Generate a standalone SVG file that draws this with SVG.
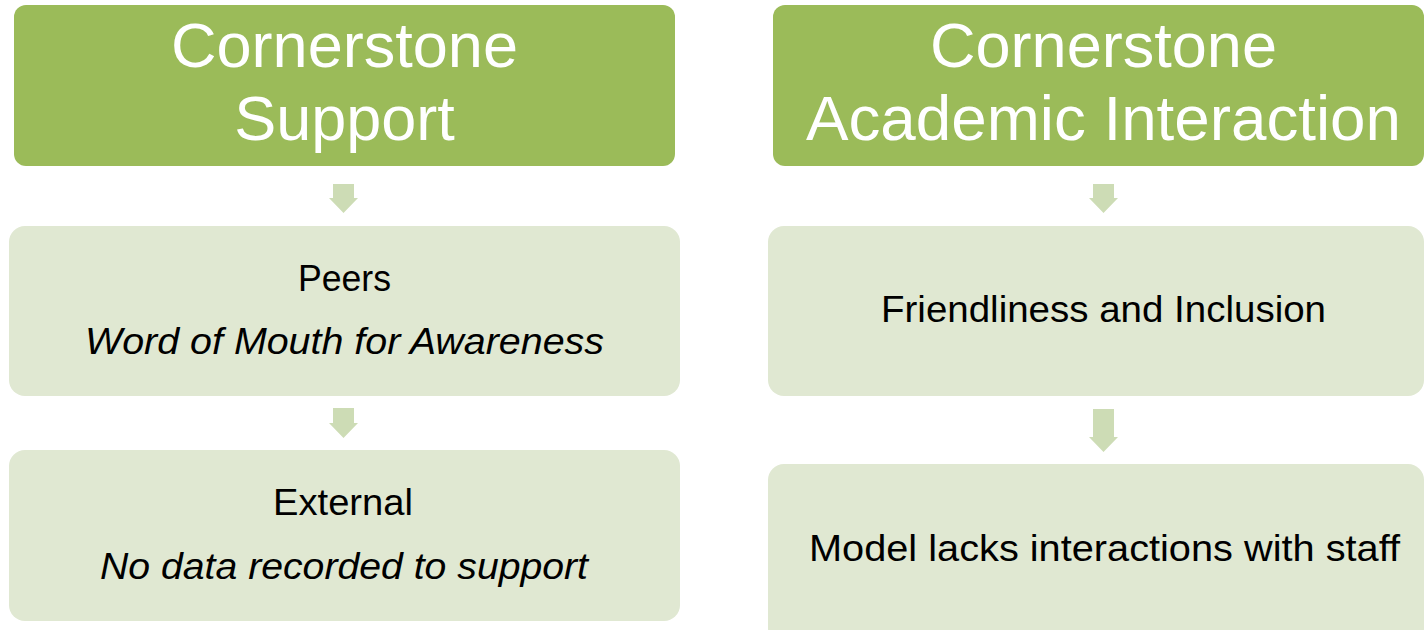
<svg xmlns="http://www.w3.org/2000/svg" width="1426" height="630" viewBox="0 0 1426 630">
  <style>
    .hdr { fill: #9BBB59; }
    .box { fill: #E0E8D2; }
    .arr { fill: #CDDCB5; }
    .ht { font-family: "Liberation Sans", Arial, sans-serif; font-size: 63px; fill: #FFFFFF; text-anchor: middle; }
    .bt { font-family: "Liberation Sans", Arial, sans-serif; font-size: 36px; fill: #000000; text-anchor: middle; }
    .it { font-style: italic; }
  </style>
  <rect width="1426" height="630" fill="#FFFFFF"/>
  <g id="connectors">
    <path class="arr" d="M333,184 H354 V198 H358 L343.5,213 L329,198 H333 Z"/>
    <path class="arr" d="M333,408 H354 V423 H358 L343.5,438 L329,423 H333 Z"/>
    <path class="arr" d="M1093,184 H1114 V198 H1118 L1103.5,213 L1089,198 H1093 Z"/>
    <path class="arr" d="M1093,409 H1114 V437 H1118 L1103.5,452 L1089,437 H1093 Z"/>
  </g>
  <g id="node-cornerstone-support">
    <rect class="hdr" x="14" y="5" width="661" height="161" rx="12"/>
    <text class="ht" x="344.5" y="67" textLength="347" lengthAdjust="spacingAndGlyphs">Cornerstone</text>
    <text class="ht" x="344.5" y="140">Support</text>
  </g>
  <g id="node-cornerstone-academic">
    <rect class="hdr" x="773" y="5" width="651" height="161" rx="12"/>
    <text class="ht" x="1103.5" y="67" textLength="347" lengthAdjust="spacingAndGlyphs">Cornerstone</text>
    <text class="ht" x="1103.5" y="140" textLength="595" lengthAdjust="spacingAndGlyphs">Academic Interaction</text>
  </g>
  <g id="node-peers">
    <rect class="box" x="9" y="226" width="671" height="170" rx="16"/>
    <text class="bt" x="344.5" y="291" textLength="93" lengthAdjust="spacingAndGlyphs">Peers</text>
    <text class="bt it" x="344.5" y="354" textLength="519" lengthAdjust="spacingAndGlyphs">Word of Mouth for Awareness</text>
  </g>
  <g id="node-external">
    <rect class="box" x="9" y="450" width="671" height="171" rx="16"/>
    <text class="bt" x="343" y="515" textLength="140" lengthAdjust="spacingAndGlyphs">External</text>
    <text class="bt it" x="344" y="579" textLength="488" lengthAdjust="spacingAndGlyphs">No data recorded to support</text>
  </g>
  <g id="node-friendliness">
    <rect class="box" x="768" y="226" width="656" height="170" rx="16"/>
    <text class="bt" x="1103.5" y="322" textLength="445" lengthAdjust="spacingAndGlyphs">Friendliness and Inclusion</text>
  </g>
  <g id="node-model">
    <rect class="box" x="768" y="464" width="656" height="180" rx="16"/>
    <text class="bt" x="1104.5" y="561" textLength="591" lengthAdjust="spacingAndGlyphs">Model lacks interactions with staff</text>
  </g>
</svg>
